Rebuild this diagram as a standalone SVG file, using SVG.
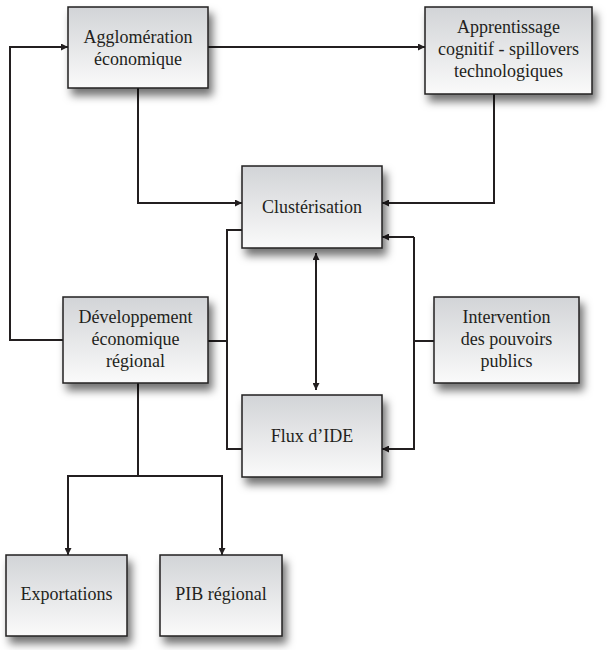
<svg xmlns="http://www.w3.org/2000/svg" width="610" height="650" viewBox="0 0 610 650">
<defs>
<linearGradient id="g" x1="0" y1="0" x2="0" y2="1">
<stop offset="0" stop-color="#d2d4d7"/>
<stop offset="1" stop-color="#fafafa"/>
</linearGradient>
<filter id="sh" x="-20%" y="-20%" width="150%" height="160%">
<feDropShadow dx="4" dy="7" stdDeviation="4" flood-color="#000" flood-opacity="0.55"/>
</filter>
<marker id="ah" viewBox="0 0 10 10" refX="10" refY="5" markerWidth="7" markerHeight="7" markerUnits="userSpaceOnUse" orient="auto-start-reverse">
<path d="M0,0 L10,5 L0,10 z" fill="#231f20"/>
</marker>
</defs>
<style>
.box{fill:url(#g);stroke:#231f20;stroke-width:1.5;filter:url(#sh)}
.t{font-family:"Liberation Serif","Times New Roman",serif;font-size:18px;fill:#231f20;text-anchor:middle}
.c{fill:none;stroke:#231f20;stroke-width:2}
.a{marker-end:url(#ah)}
</style>
<rect width="610" height="650" fill="#fff"/>
<g id="connectors">
<path class="c a" d="M208,47 H425"/>
<path class="c a" d="M63,340 H10 V47 H68"/>
<path class="c a" d="M138,88 V203 H242"/>
<path class="c a" d="M494,94 V203 H382"/>
<path class="c" d="M434,341 H414"/>
<path class="c a" d="M414,237 H382"/>
<path class="c a" d="M414,237 V449 H382"/>
<path class="c" d="M208,341 H227"/>
<path class="c" d="M242,230 H227 V449 H242"/>
<path class="c a" d="M316,253 V390" marker-start="url(#ah)"/>
<path class="c" d="M138,383 V476"/>
<path class="c a" d="M138,476 H68 V555"/>
<path class="c a" d="M138,476 H222 V555"/>
</g>
<g id="n-agglo">
<rect class="box" x="68" y="7" width="140" height="81"/>
<text class="t" x="138" y="43">Agglomération</text>
<text class="t" x="138" y="65">économique</text>
</g>
<g id="n-apprentissage">
<rect class="box" x="425" y="7" width="167" height="87"/>
<text class="t" x="508.5" y="33">Apprentissage</text>
<text class="t" x="508.5" y="55">cognitif - spillovers</text>
<text class="t" x="508.5" y="77">technologiques</text>
</g>
<g id="n-clusterisation">
<rect class="box" x="242" y="166" width="140" height="82"/>
<text class="t" x="312" y="213">Clustérisation</text>
</g>
<g id="n-developpement">
<rect class="box" x="63" y="297" width="145" height="86"/>
<text class="t" x="135.5" y="323">Développement</text>
<text class="t" x="135.5" y="345">économique</text>
<text class="t" x="135.5" y="367">régional</text>
</g>
<g id="n-intervention">
<rect class="box" x="434" y="297" width="145" height="86"/>
<text class="t" x="506.5" y="323">Intervention</text>
<text class="t" x="506.5" y="345">des pouvoirs</text>
<text class="t" x="506.5" y="367">publics</text>
</g>
<g id="n-flux">
<rect class="box" x="242" y="395" width="140" height="82"/>
<text class="t" x="312" y="442">Flux d’IDE</text>
</g>
<g id="n-exportations">
<rect class="box" x="6" y="555" width="121" height="81"/>
<text class="t" x="66.5" y="600">Exportations</text>
</g>
<g id="n-pib">
<rect class="box" x="160" y="555" width="122" height="81"/>
<text class="t" x="221" y="600">PIB régional</text>
</g>
</svg>
